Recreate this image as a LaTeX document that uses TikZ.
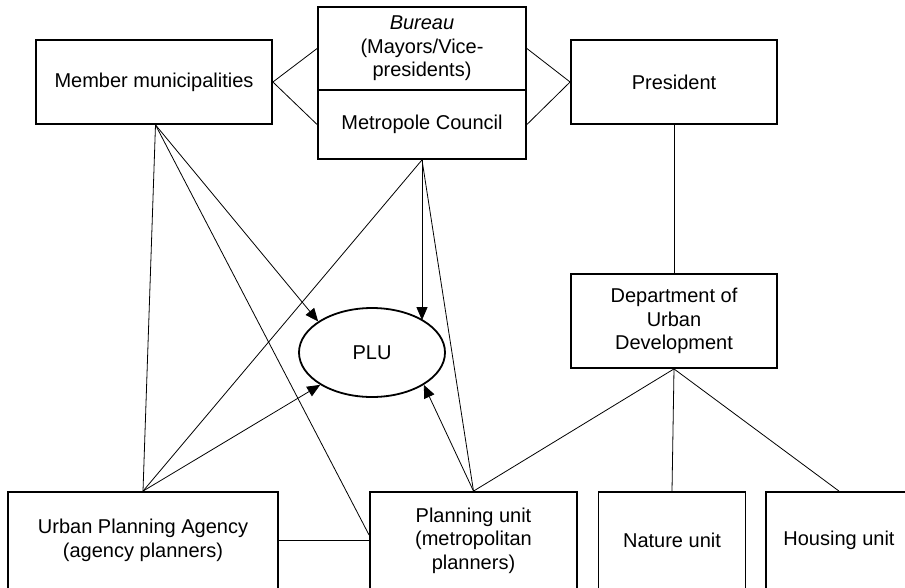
\documentclass[tikz,border=0pt]{standalone}
\usepackage{fontspec}
\setmainfont{Liberation Sans}
\usetikzlibrary{shapes.geometric,arrows.meta}

\begin{document}
\begin{tikzpicture}[x=1pt,y=-1pt,
  box/.style={draw,line width=1.8pt,rectangle,align=center,inner sep=2pt,
    font=\fontsize{20}{23.5}\selectfont},
  unitbox/.style={box,minimum height=97pt},
  link/.style={line width=0.8pt},
  arr/.style={link,-{Triangle[length=13pt,width=11pt]}}]
% Parameters
\def\boxmid{540.5}

\useasboundingbox (0,0) rectangle (905,587);
\clip (0,0) rectangle (905,587);

% Top row
\node[box,minimum width=236pt,minimum height=84pt] (mm) at (154,82) {Member municipalities};
\node[box,minimum width=208pt,minimum height=83pt] (bureau) at (422,48.5) {\textit{Bureau}\\(Mayors/Vice-\\presidents)};
\node[box,minimum width=208pt,minimum height=69pt] (mc) at (422,124.5) {Metropole Council};
\node[box,minimum width=206pt,minimum height=84pt] (pres) at (674,82) {President};

% Middle
\node[box,minimum width=206pt,minimum height=94pt] (dept) at (674,321) {Department of\\Urban\\Development};
\node[draw,ellipse,line width=1.8pt,fill=white,minimum width=146pt,minimum height=89pt,
  font=\fontsize{20}{23.5}\selectfont] (plu) at (372,352.5) {PLU};

% Bottom row
\node[unitbox,minimum width=270pt] (upa) at (143,\boxmid) {Urban Planning Agency\\(agency planners)};
\node[unitbox,minimum width=207pt] (pu) at (473.5,\boxmid) {Planning unit\\(metropolitan\\planners)};
\node[unitbox,minimum width=147pt] (nature) at (672,\boxmid) {Nature unit};
\node[unitbox,minimum width=146pt] (housing) at (839,\boxmid) {Housing unit};

% Links at the top
\draw[link] (mm.east) -- (bureau.west);
\draw[link] (mm.east) -- (mc.west);
\draw[link] (pres.west) -- (bureau.east);
\draw[link] (pres.west) -- (mc.east);
\draw[link] (pres.south) -- (dept.north);

% Member municipalities
\draw[link] (mm.272) -- (upa.north);
\draw[link] (mm.272) -- (pu.177);
\draw[arr] (mm.272) -- (plu.150);

% Metropole Council
\draw[link] (mc.south) -- (upa.north);
\draw[arr] (mc.south) -- (mc.south |- plu.32);
\draw[link] (mc.south) -- (pu.north);

% Planners
\draw[arr] (upa.north) -- (plu.212);
\draw[arr] (pu.north) -- (plu.328);
\draw[link] (upa.east) -- (pu.west);

% Department
\draw[link] (pu.north) -- (dept.south);
\draw[link] (dept.south) -- (nature.north);
\draw[link] (dept.south) -- (housing.north);
\end{tikzpicture}
\end{document}
